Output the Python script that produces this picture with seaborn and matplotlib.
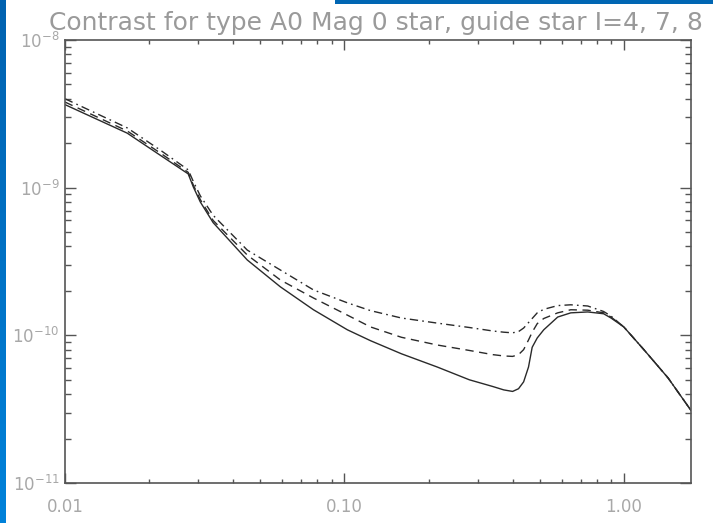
import numpy as np
import pandas as pd
import matplotlib
matplotlib.use("Agg")
import matplotlib.pyplot as plt
import seaborn as sns
from matplotlib.ticker import FixedLocator, LogLocator, NullFormatter

sns.set_style("ticks")
plt.rcParams['font.family'] = ['DejaVu Sans']

# separation (arcsec) and contrast
sep = [0.01, 0.0167, 0.0219, 0.0276, 0.0288, 0.0305, 0.0339, 0.0449, 0.059, 0.0775,
       0.1025, 0.124, 0.16, 0.215, 0.28, 0.34, 0.372, 0.40, 0.42, 0.438, 0.456,
       0.47, 0.49, 0.517, 0.58, 0.646, 0.743, 0.847, 0.9, 1.0, 1.18, 1.44, 1.74]

guide_i4 = [3.65e-9, 2.34e-9, 1.66e-9, 1.24e-9, 1.01e-9, 8.0e-10, 5.8e-10, 3.24e-10, 2.13e-10, 1.49e-10,
            1.09e-10, 9.2e-11, 7.5e-11, 6.1e-11, 5.0e-11, 4.5e-11, 4.27e-11, 4.17e-11, 4.35e-11, 4.84e-11, 6.1e-11,
            8.3e-11, 9.6e-11, 1.09e-10, 1.33e-10, 1.42e-10, 1.44e-10, 1.40e-10, 1.31e-10, 1.14e-10, 8.0e-11, 5.15e-11, 3.1e-11]

guide_i7 = [3.8e-9, 2.42e-9, 1.72e-9, 1.27e-9, 1.04e-9, 8.3e-10, 6.0e-10, 3.5e-10, 2.37e-10, 1.79e-10,
            1.37e-10, 1.14e-10, 9.7e-11, 8.6e-11, 7.9e-11, 7.4e-11, 7.25e-11, 7.2e-11, 7.4e-11, 8.0e-11, 9.3e-11,
            1.05e-10, 1.2e-10, 1.3e-10, 1.42e-10, 1.49e-10, 1.48e-10, 1.42e-10, 1.33e-10, 1.14e-10, 8.0e-11, 5.15e-11, 3.1e-11]

guide_i8 = [4.0e-9, 2.54e-9, 1.8e-9, 1.32e-9, 1.1e-9, 8.8e-10, 6.5e-10, 3.78e-10, 2.77e-10, 2.03e-10,
            1.66e-10, 1.47e-10, 1.31e-10, 1.21e-10, 1.13e-10, 1.07e-10, 1.05e-10, 1.04e-10, 1.06e-10, 1.12e-10, 1.22e-10,
            1.3e-10, 1.42e-10, 1.5e-10, 1.59e-10, 1.61e-10, 1.58e-10, 1.45e-10, 1.35e-10, 1.14e-10, 8.0e-11, 5.15e-11, 3.1e-11]

x_ticks = [0.01, 0.1, 1.0]
x_labels = ["0.01", "0.10", "1.00"]
y_ticks = [1e-11, 1e-10, 1e-9, 1e-8]
y_labels = [r"$10^{-11}$", r"$10^{-10}$", r"$10^{-9}$", r"$10^{-8}$"]
title = "Contrast for type A0 Mag 0 star, guide star I=4, 7, 8"

fig = plt.figure(figsize=(7.13, 5.23), dpi=100)
ax = fig.add_axes([65/713, 1-483/523, 626/713, 443/523])

line_col = "#2a2a2a"
sns.lineplot(x=sep, y=guide_i4, ax=ax, color=line_col, lw=1.0, linestyle="-")
sns.lineplot(x=sep, y=guide_i7, ax=ax, color=line_col, lw=1.0)
ax.lines[-1].set_dashes((6, 4))
sns.lineplot(x=sep, y=guide_i8, ax=ax, color=line_col, lw=1.0)
ax.lines[-1].set_dashes((6, 3, 1.2, 3))

ax.set_xscale("log")
ax.set_yscale("log")
ax.set_xlim(0.01, 1.74)
ax.set_ylim(1e-11, 1e-8)

ax.xaxis.set_major_locator(FixedLocator(x_ticks))
ax.set_xticklabels(x_labels)
ax.xaxis.set_minor_locator(LogLocator(base=10, subs=np.arange(2, 10), numticks=20))
ax.xaxis.set_minor_formatter(NullFormatter())
ax.yaxis.set_major_locator(FixedLocator(y_ticks))
ax.set_yticklabels(y_labels)
ax.yaxis.set_minor_locator(LogLocator(base=10, subs=np.arange(2, 10), numticks=20))
ax.yaxis.set_minor_formatter(NullFormatter())

lab_col = "#a8a8a8"
ax.tick_params(axis="both", which="both", direction="in", top=True, right=True,
               color="#555555", labelcolor=lab_col, labelsize=12, width=1.0)
ax.tick_params(axis="y", which="major", length=8, pad=4)
ax.tick_params(axis="y", which="minor", length=4.5)
ax.tick_params(axis="x", which="major", length=7, pad=11)
ax.tick_params(axis="x", which="minor", length=2.8)
for s in ax.spines.values():
    s.set_color("#555555")
    s.set_linewidth(1.2)
ax.set_xlabel("")
ax.set_ylabel("")

fig.text(376/713, 1-30/523, title, ha="center", va="baseline", fontsize=18, color="#9a9a9a")

# blue decoration: left strip and top-right bar
strip = fig.add_axes([0, 0, 6/713, 1])
grad = np.linspace(0, 1, 256).reshape(-1, 1)
strip.imshow(grad, aspect="auto", cmap=matplotlib.colors.LinearSegmentedColormap.from_list(
    "b", ["#0062b0", "#0082da"]), extent=[0, 1, 1, 0])
strip.set_axis_off()
bar = fig.add_axes([335/713, 1-4/523, 378/713, 4/523])
bar.set_facecolor("#0066b3")
bar.set_xticks([])
bar.set_yticks([])
for s in bar.spines.values():
    s.set_visible(False)

fig.savefig("out.png", dpi=100)
